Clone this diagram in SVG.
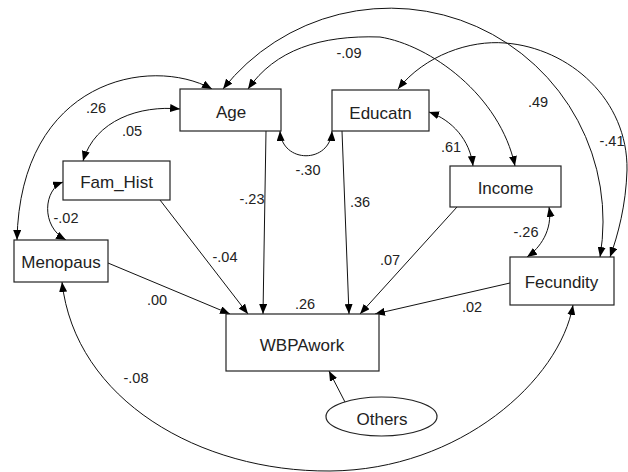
<svg xmlns="http://www.w3.org/2000/svg" width="628" height="472" viewBox="0 0 628 472">
<defs>
<marker id="ah" viewBox="0 0 10 8" refX="10" refY="4" markerWidth="10" markerHeight="8" markerUnits="userSpaceOnUse" orient="auto-start-reverse"><path d="M0,0 L10,4 L0,8 z" fill="#000"/></marker>
<style>
.box{fill:#fff;stroke:#222;stroke-width:1.2}
.lbl{font-family:"Liberation Sans",Arial,sans-serif;font-size:17px;fill:#222;text-anchor:middle}
.num{font-family:"Liberation Sans",Arial,sans-serif;font-size:14.5px;fill:#222;text-anchor:middle}
.c{fill:none;stroke:#111;stroke-width:1}
.d{marker-end:url(#ah)}
.b{marker-start:url(#ah);marker-end:url(#ah)}
</style>
</defs>
<rect width="628" height="472" fill="#fff"/>
<g id="connectors">
<path class="c d" d="M266,131 L263,314"/>
<path class="c d" d="M342,131 L349,314"/>
<path class="c d" d="M160,200 L248,314"/>
<path class="c d" d="M108,263 L230,314"/>
<path class="c d" d="M457,207 L360,314"/>
<path class="c d" d="M510,283 L375,314"/>
<path class="c d" d="M345,402 L329,371"/>
<path class="c b" d="M212,89 C150,55 20,80 17,240"/>
<path class="c b" d="M180,109 C140,105 95,120 83,161"/>
<path class="c b" d="M63,182 C44,189 40,226 66,240"/>
<path class="c b" d="M280,131 C282,164 330,164 332,131"/>
<path class="c b" d="M429,112 C452,120 470,140 473,166"/>
<path class="c b" d="M549,207 C553,230 540,248 527,257"/>
<path class="c b" d="M223,89 A213,213 0 0 1 600,257"/>
<path class="c b" d="M248,89 C275,50 320,35 380,37 C430,45 500,95 515,166"/>
<path class="c b" d="M398,89 C425,55 470,40 505,43 C570,48 628,100 627,170 C626,205 618,235 610,257"/>
<path class="c b" d="M62,282 C75,400 200,472 330,471 C460,470 560,380 573,305"/>
</g>
<g id="Age"><rect class="box" x="180" y="89" width="101" height="42"/><text class="lbl" x="231" y="118">Age</text></g>
<g id="Educatn"><rect class="box" x="332" y="90" width="97" height="41"/><text class="lbl" x="380.5" y="119">Educatn</text></g>
<g id="Fam_Hist"><rect class="box" x="63" y="161" width="107" height="39"/><text class="lbl" x="116.5" y="188">Fam_Hist</text></g>
<g id="Income"><rect class="box" x="450" y="166" width="111" height="41"/><text class="lbl" x="505.5" y="194">Income</text></g>
<g id="Menopaus"><rect class="box" x="14" y="240" width="94" height="42"/><text class="lbl" x="61" y="268">Menopaus</text></g>
<g id="WBPAwork"><rect class="box" x="226" y="314" width="153" height="57"/><text class="lbl" x="302" y="351">WBPAwork</text></g>
<g id="Fecundity"><rect class="box" x="510" y="257" width="104" height="48"/><text class="lbl" x="561.5" y="288">Fecundity</text></g>
<g id="Others"><ellipse cx="381.5" cy="416.5" rx="55.5" ry="19.5" fill="#fff" stroke="#222" stroke-width="1.2"/><text class="lbl" x="382" y="425">Others</text></g>
<g id="labels">
<text class="num" x="96" y="113">.26</text>
<text class="num" x="132" y="136">.05</text>
<text class="num" x="66" y="223">-.02</text>
<text class="num" x="252" y="204">-.23</text>
<text class="num" x="308" y="175">-.30</text>
<text class="num" x="349" y="58">-.09</text>
<text class="num" x="538" y="107">.49</text>
<text class="num" x="612" y="146">-.41</text>
<text class="num" x="451" y="152">.61</text>
<text class="num" x="360" y="207">.36</text>
<text class="num" x="526" y="237">-.26</text>
<text class="num" x="225" y="262">-.04</text>
<text class="num" x="157" y="305">.00</text>
<text class="num" x="305" y="309">.26</text>
<text class="num" x="136" y="383">-.08</text>
<text class="num" x="390" y="265">.07</text>
<text class="num" x="472" y="312">.02</text>
</g>
</svg>
